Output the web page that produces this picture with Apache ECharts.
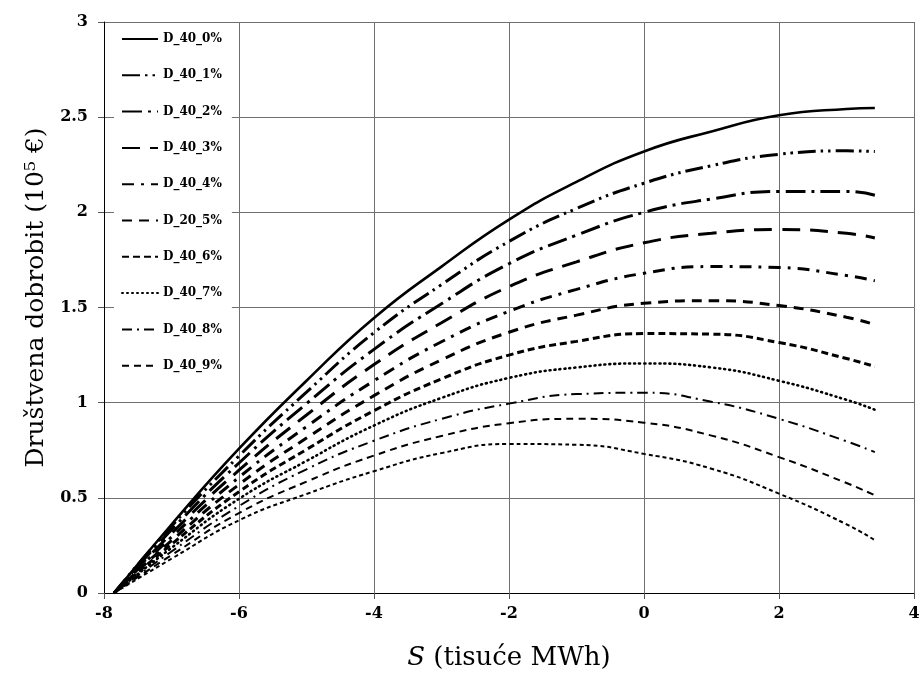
<!DOCTYPE html>
<html>
<head>
<meta charset="utf-8">
<script src="https://cdn.jsdelivr.net/npm/echarts@6/dist/echarts.min.js"></script>
<style>
  html, body { margin: 0; padding: 0; background: #fff; }
  #chart { width: 923px; height: 683px; }
</style>
</head>
<body>
<div id="chart"></div>
<script>
var sValues = [-7.85, -7, -6, -5, -4, -3, -2, -1, 0, 1, 2, 3, 3.42];

var d0  = [0, 0.360, 0.758, 1.115, 1.445, 1.715, 1.962, 2.160, 2.320, 2.425, 2.510, 2.543, 2.548];
var d1  = [0, 0.351, 0.720, 1.055, 1.368, 1.620, 1.847, 2.020, 2.153, 2.245, 2.305, 2.323, 2.320];
var d2  = [0, 0.332, 0.683, 0.995, 1.280, 1.520, 1.730, 1.880, 2.000, 2.070, 2.110, 2.110, 2.090];
var d3  = [0, 0.313, 0.645, 0.935, 1.200, 1.420, 1.610, 1.740, 1.840, 1.890, 1.910, 1.890, 1.865];
var d4  = [0, 0.294, 0.608, 0.874, 1.115, 1.320, 1.480, 1.595, 1.680, 1.715, 1.710, 1.668, 1.640];
var d5  = [0, 0.275, 0.570, 0.814, 1.037, 1.225, 1.370, 1.460, 1.522, 1.536, 1.510, 1.449, 1.410];
var d6  = [0, 0.256, 0.532, 0.754, 0.958, 1.125, 1.250, 1.322, 1.363, 1.360, 1.316, 1.232, 1.190];
var d7  = [0, 0.237, 0.495, 0.694, 0.880, 1.025, 1.130, 1.185, 1.206, 1.185, 1.115, 1.015, 0.963];
var d8  = [0, 0.218, 0.457, 0.650, 0.800, 0.915, 0.995, 1.045, 1.052, 1.005, 0.915, 0.797, 0.740];
var d9  = [0, 0.199, 0.420, 0.585, 0.722, 0.825, 0.892, 0.915, 0.895, 0.827, 0.714, 0.578, 0.513];
var d10 = [0, 0.180, 0.382, 0.520, 0.640, 0.735, 0.783, 0.779, 0.731, 0.653, 0.522, 0.361, 0.277];

var names = ['D_40_0%', 'D_40_1%', 'D_40_2%', 'D_40_3%', 'D_40_4%', 'D_20_5%',
             'D_40_6%', 'D_40_7%', 'D_40_8%', 'D_40_9%', 'D_40_10%'];
var legendNames = names.slice(0, 10);   // last curve has no legend entry in the original

var allData = [d0, d1, d2, d3, d4, d5, d6, d7, d8, d9, d10];

// dash patterns / widths per curve
var styles = [
  {type: 'solid', width: 2.6},
  {type: [18, 5, 2.5, 5, 2.5, 5], width: 3},
  {type: [20, 6, 3, 6], width: 3},
  {type: [18, 10], width: 3},
  {type: [12, 7, 3, 7], width: 3},
  {type: [10, 7], width: 3},
  {type: [7, 4], width: 3},
  {type: [1, 4], width: 2.6, cap: 'round'},
  {type: [10, 5, 2, 5], width: 2},
  {type: [7, 5], width: 2},
  {type: [4, 3], width: 2}
];

var serif = 'DejaVu Serif';

var series = allData.map(function (vals, i) {
  return {
    name: names[i],
    type: 'line',
    symbol: 'none',
    smooth: 0.5,
    animation: false,
    itemStyle: {color: '#000'},
    lineStyle: {
      color: '#000',
      width: styles[i].width,
      type: styles[i].type,
      cap: styles[i].cap || 'butt'
    },
    data: vals.map(function (v, j) { return [sValues[j], v]; })
  };
});

var chart = echarts.init(document.getElementById('chart'));

chart.setOption({
  backgroundColor: '#fff',
  animation: false,
  grid: {left: 104, right: 9, top: 22, bottom: 90, containLabel: false},
  legend: {
    data: legendNames,
    orient: 'vertical',
    left: 114,
    top: 23,
    itemWidth: 36,
    itemHeight: 14,
    itemGap: 24.3,
    padding: [10, 10, 14, 7],
    backgroundColor: '#fff',
    itemStyle: {opacity: 0},
    textStyle: {fontFamily: serif, fontWeight: 'bold', fontSize: 12, color: '#000'}
  },
  xAxis: {
    type: 'value',
    min: -8, max: 4, interval: 2,
    name: '{i|S} (tisuće MWh)',
    nameLocation: 'middle',
    nameGap: 52,
    nameTextStyle: {
      fontFamily: serif, fontSize: 26, color: '#000',
      rich: {i: {fontFamily: serif, fontSize: 26, fontStyle: 'italic', color: '#000'}}
    },
    axisLine: {onZero: false, lineStyle: {color: '#000', width: 1}},
    axisTick: {show: true, length: 6, lineStyle: {color: '#555'}},
    axisLabel: {fontFamily: serif, fontWeight: 'bold', fontSize: 16, color: '#000', margin: 13},
    splitLine: {show: true, lineStyle: {color: '#707070', width: 1}}
  },
  yAxis: {
    type: 'value',
    min: 0, max: 3, interval: 0.5,
    name: 'Društvena dobrobit (10⁵ €)',
    nameLocation: 'middle',
    nameGap: 50,
    nameTextStyle: {fontFamily: serif, fontSize: 25, color: '#000', padding: [0, 0, 0, 20]},
    axisLine: {show: true, onZero: false, lineStyle: {color: '#000', width: 1}},
    axisTick: {show: true, length: 6, lineStyle: {color: '#555'}},
    axisLabel: {fontFamily: serif, fontWeight: 'bold', fontSize: 16, color: '#000', margin: 16},
    splitLine: {show: true, lineStyle: {color: '#707070', width: 1}}
  },
  series: series
});
</script>
</body>
</html>
